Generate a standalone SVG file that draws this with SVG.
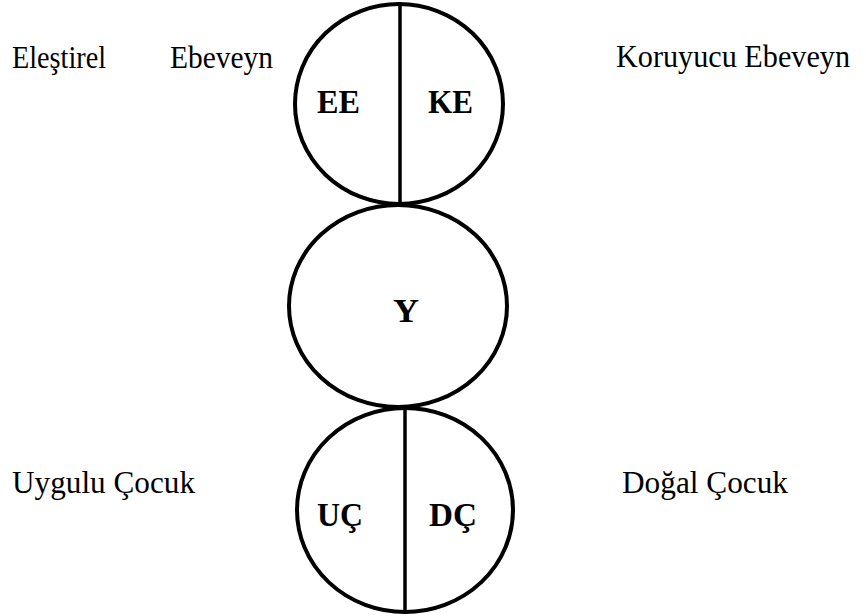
<svg xmlns="http://www.w3.org/2000/svg" width="866" height="616" viewBox="0 0 866 616">
<style>
.c{fill:#fff;stroke:#000;stroke-width:4}
.d{stroke:#000;stroke-width:3.5}
.lb{font-family:"Liberation Serif","Times New Roman",serif;font-weight:bold;font-size:33px;fill:#000}
.t{font-family:"Liberation Serif","Times New Roman",serif;font-size:32px;fill:#000}
</style>
<rect width="866" height="616" fill="#fff"/>
<g id="node-parent">
<ellipse class="c" cx="399" cy="104" rx="104" ry="100"/>
<text class="lb" x="317" y="113" textLength="43" lengthAdjust="spacingAndGlyphs">EE</text>
<text class="lb" x="428" y="113" textLength="45" lengthAdjust="spacingAndGlyphs">KE</text>
</g>
<g id="node-adult">
<ellipse class="c" cx="398" cy="306" rx="109" ry="101"/>
<text class="lb" x="393" y="322" textLength="26" lengthAdjust="spacingAndGlyphs">Y</text>
</g>
<g id="node-child">
<ellipse class="c" cx="405" cy="510" rx="108" ry="102"/>
<text class="lb" x="317" y="526" textLength="46" lengthAdjust="spacingAndGlyphs">UÇ</text>
<text class="lb" x="429" y="526" textLength="48" lengthAdjust="spacingAndGlyphs">DÇ</text>
</g>
<g id="connectors">
<line class="d" x1="400" y1="5" x2="400" y2="205"/>
<line class="d" x1="405" y1="410" x2="405" y2="612"/>
</g>
<g id="labels">
<text class="t" x="12" y="68" textLength="94" lengthAdjust="spacingAndGlyphs">Eleştirel</text>
<text class="t" x="170" y="68" textLength="103" lengthAdjust="spacingAndGlyphs">Ebeveyn</text>
<text class="t" x="616" y="67" font-size="29" textLength="234" lengthAdjust="spacingAndGlyphs">Koruyucu Ebeveyn</text>
<text class="t" x="12" y="493" textLength="183" lengthAdjust="spacingAndGlyphs">Uygulu  Çocuk</text>
<text class="t" x="622" y="493" textLength="166" lengthAdjust="spacingAndGlyphs">Doğal Çocuk</text>
</g>
</svg>
